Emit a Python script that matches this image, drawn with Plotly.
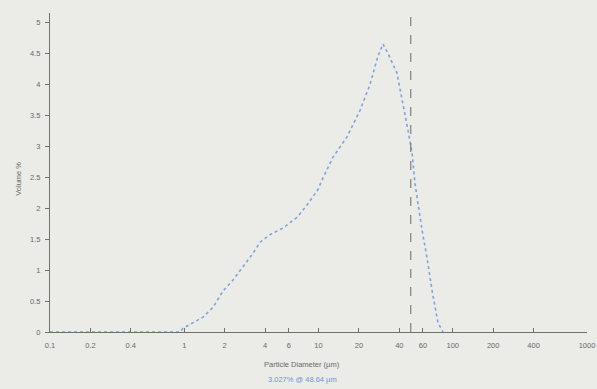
import plotly.graph_objects as go

# Particle size distribution
diameter_um = [0.1, 0.5, 0.93, 0.98, 1.38, 1.64, 1.94, 2.31, 2.74, 3.25, 3.67, 4.35, 5.44,
               6.92, 8.21, 9.91, 10.6, 12.8, 16.3, 20.4, 24.2, 27.7, 30.2, 32.9,
               38.4, 42.6, 46.4, 49.7, 52.3, 59.0, 64.3, 70.0, 77.6, 84.6]
volume_pct = [0.0, 0.0, 0.0, 0.06, 0.24, 0.40, 0.66, 0.84, 1.05, 1.27, 1.45, 1.57, 1.68,
              1.85, 2.05, 2.30, 2.45, 2.82, 3.15, 3.58, 4.00, 4.45, 4.65, 4.50,
              4.18, 3.70, 3.26, 2.90, 2.40, 1.65, 1.20, 0.68, 0.15, 0.0]

cursor_um = 48.64
cursor_y = [0, 5.1]

x_tickvals = [0.1, 0.2, 0.4, 1, 2, 4, 6, 10, 20, 40, 60, 100, 200, 400, 1000]
x_ticktext = ["0.1", "0.2", "0.4", "1", "2", "4", "6", "10", "20", "40", "60", "100", "200", "400", "1000"]
y_tickvals = [0, 0.5, 1, 1.5, 2, 2.5, 3, 3.5, 4, 4.5, 5]
y_ticktext = ["0", "0.5", "1", "1.5", "2", "2.5", "3", "3.5", "4", "4.5", "5"]

bg = "#ebebe7"
axis_col = "#707070"
font = dict(family="Liberation Sans, Arial, sans-serif", size=7.5, color="#6a6a6a")

fig = go.Figure()
fig.add_trace(go.Scatter(x=diameter_um, y=volume_pct, mode="lines",
                         line=dict(color="#7fa3dc", width=1.6, dash="dot"),
                         hoverinfo="skip", showlegend=False))
fig.add_trace(go.Scatter(x=[cursor_um, cursor_um], y=cursor_y, mode="lines",
                         line=dict(color="#808080", width=1.2, dash="dash"),
                         hoverinfo="skip", showlegend=False))

fig.update_layout(
    width=597, height=389,
    margin=dict(l=50, r=10, t=13, b=57, autoexpand=False),
    paper_bgcolor=bg, plot_bgcolor=bg,
    font=font,
    xaxis=dict(type="log", range=[-1, 3], tickvals=x_tickvals, ticktext=x_ticktext,
               showgrid=False, zeroline=False, showline=True, linecolor=axis_col, linewidth=1,
               ticks="inside", ticklen=4, tickcolor=axis_col, tickfont=font, automargin=False,
               ticklabelstandoff=6),
    yaxis=dict(range=[0, 5.15], tickvals=y_tickvals, ticktext=y_ticktext,
               showgrid=False, zeroline=False, showline=True, linecolor=axis_col, linewidth=1,
               ticks="outside", ticklen=4, tickcolor=axis_col, tickfont=font, automargin=False,
               ticklabelstandoff=3),
    annotations=[
        dict(text="Particle Diameter (µm)", xref="paper", yref="paper", x=0.47, y=-0.125,
             yanchor="middle", yshift=7, showarrow=False,
             font=dict(family=font["family"], size=7.5, color="#6a6a6a")),
        dict(text="3.027% @ 48.64 µm", xref="paper", yref="paper", x=0.47, y=-0.172,
             yanchor="middle", yshift=7, showarrow=False,
             font=dict(family=font["family"], size=7.5, color="#6f95d6")),
        dict(text="Volume %", xref="paper", yref="paper", x=-0.07, y=0.48, textangle=-90,
             showarrow=False, font=dict(family=font["family"], size=7.5, color="#6a6a6a")),
    ],
)

fig.write_html("out.html", config={"displayModeBar": False})

# remove the browser's default body margin so the figure sits at the page origin
with open("out.html", "r", encoding="utf-8") as f:
    html = f.read()
style = "<style>html,body{margin:0;padding:0;background:%s;overflow:hidden;}</style>" % bg
if "</head>" in html:
    html = html.replace("</head>", style + "</head>", 1)
else:
    html = style + html
with open("out.html", "w", encoding="utf-8") as f:
    f.write(html)
